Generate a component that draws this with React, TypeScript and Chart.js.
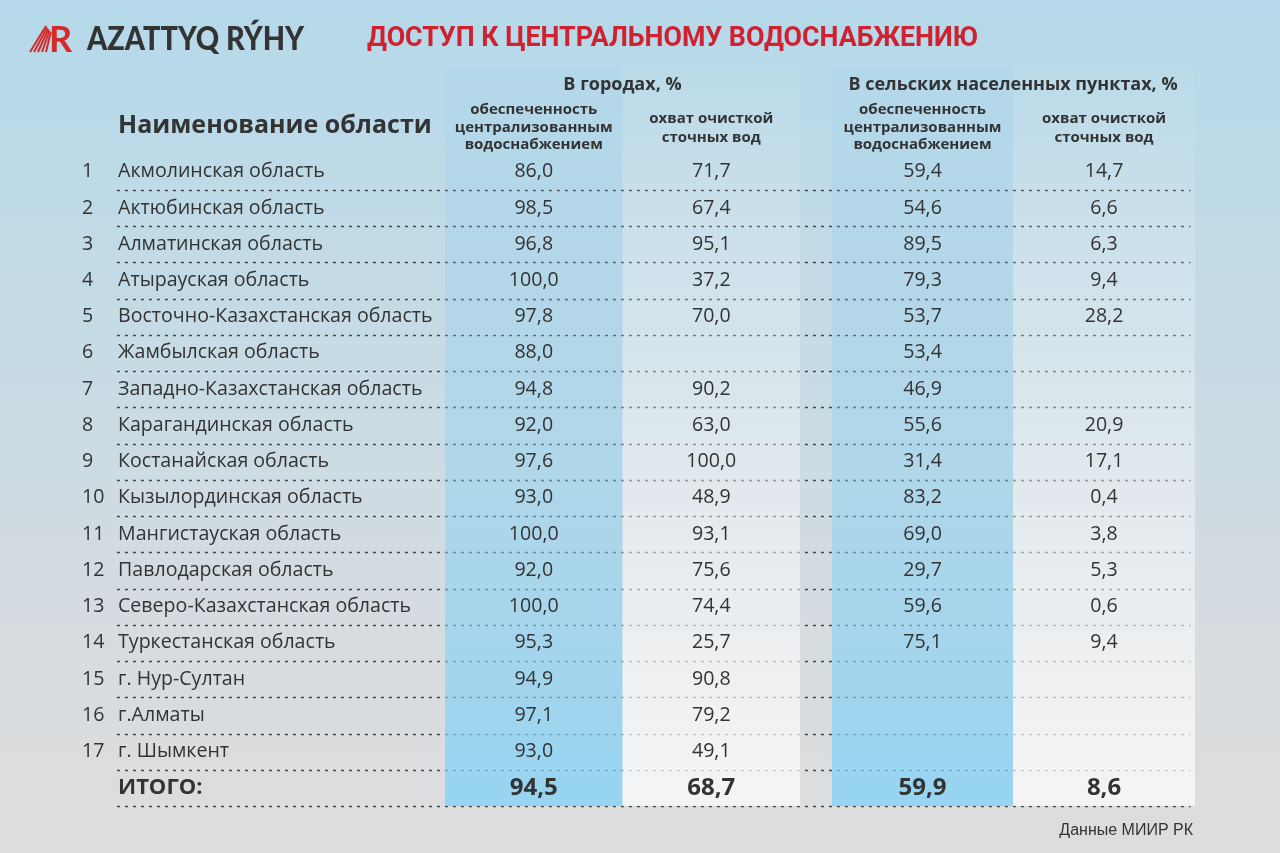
import React, { useEffect, useRef } from 'react';
import { Chart, registerables } from 'chart.js';

Chart.register(...registerables);

// ---------- DATA ----------
const titleText = 'ДОСТУП К ЦЕНТРАЛЬНОМУ ВОДОСНАБЖЕНИЮ';
const brandText = 'AZATTYQ RÝHY';
const sourceText = 'Данные МИИР РК';
const nameHeader = 'Наименование области';
const totalLabel = 'ИТОГО:';
const groupHeaders = ['В городах, %', 'В сельских населенных пунктах, %'];
const columnHeaders = [
  ['обеспеченность', 'централизованным', 'водоснабжением'],
  ['охват очисткой', 'сточных вод'],
  ['обеспеченность', 'централизованным', 'водоснабжением'],
  ['охват очисткой', 'сточных вод'],
];

const regions = [
  'Акмолинская область',
  'Актюбинская область',
  'Алматинская область',
  'Атырауская область',
  'Восточно-Казахстанская область',
  'Жамбылская область',
  'Западно-Казахстанская область',
  'Карагандинская область',
  'Костанайская область',
  'Кызылординская область',
  'Мангистауская область',
  'Павлодарская область',
  'Северо-Казахстанская область',
  'Туркестанская область',
  'г. Нур-Султан',
  'г.Алматы',
  'г. Шымкент',
];

const cityWater: (number | null)[] = [86.0, 98.5, 96.8, 100.0, 97.8, 88.0, 94.8, 92.0, 97.6, 93.0, 100.0, 92.0, 100.0, 95.3, 94.9, 97.1, 93.0];
const citySewage: (number | null)[] = [71.7, 67.4, 95.1, 37.2, 70.0, null, 90.2, 63.0, 100.0, 48.9, 93.1, 75.6, 74.4, 25.7, 90.8, 79.2, 49.1];
const ruralWater: (number | null)[] = [59.4, 54.6, 89.5, 79.3, 53.7, 53.4, 46.9, 55.6, 31.4, 83.2, 69.0, 29.7, 59.6, 75.1, null, null, null];
const ruralSewage: (number | null)[] = [14.7, 6.6, 6.3, 9.4, 28.2, null, null, 20.9, 17.1, 0.4, 3.8, 5.3, 0.6, 9.4, null, null, null];
const totals = [94.5, 68.7, 59.9, 8.6];

// ---------- LAYOUT ----------
const COLS = [cityWater, citySewage, ruralWater, ruralSewage];
const COL_EDGES = [[0, 1], [1, 2], [2.18, 3.2], [3.2, 4.225]];
const COL_KIND = ['blue', 'white', 'blue', 'white'];
const X_MAX = 4.225;
const Y_MIN = -2.36;
const Y_MAX = 18;
const NUM_X = -2.045;
const NAME_X = -1.842;
const LINE_X0 = -1.848;
const LINE_X1 = 4.2;
const FONT = '"Open Sans", "Noto Sans", sans-serif';
const TEXT = '#333333';

const fmt = (v: number) => v.toFixed(1).replace('.', ',');

function fitText(ctx: CanvasRenderingContext2D, text: string, x: number, y: number, w: number) {
  const m = ctx.measureText(text).width;
  ctx.save();
  ctx.translate(x, y);
  ctx.scale(w / m, 1);
  ctx.textAlign = 'left';
  ctx.fillText(text, 0, 0);
  ctx.restore();
}

const tablePlugin = {
  id: 'tablePlugin',
  beforeDraw(chart: any) {
    const { ctx, width, height } = chart;
    ctx.save();
    const g = ctx.createLinearGradient(0, 0, 0, height);
    g.addColorStop(0, '#b5d9ea');
    g.addColorStop(0.4, '#c6dbe5');
    g.addColorStop(0.78, '#d8dcdf');
    g.addColorStop(1, '#dddddd');
    ctx.fillStyle = g;
    ctx.fillRect(0, 0, width, height);
    ctx.restore();
  },
  beforeDatasetsDraw(chart: any) {
    const { ctx } = chart;
    const xs = chart.scales.x;
    const ys = chart.scales.y;
    // dotted row separators
    ctx.save();
    ctx.setLineDash([3, 5]);
    ctx.lineWidth = 1.5;
    ctx.strokeStyle = '#444444';
    for (let i = 1; i <= regions.length + 1; i++) {
      const py = Math.round(ys.getPixelForValue(i)) + 0.5;
      ctx.beginPath();
      ctx.moveTo(xs.getPixelForValue(LINE_X0), py);
      ctx.lineTo(xs.getPixelForValue(LINE_X1), py);
      ctx.stroke();
    }
    ctx.restore();
    // column bands
    const top = ys.getPixelForValue(Y_MIN);
    const bot = ys.getPixelForValue(Y_MAX);
    COL_EDGES.forEach(([a, b], k) => {
      const x0 = xs.getPixelForValue(a);
      const x1 = xs.getPixelForValue(b);
      const g = ctx.createLinearGradient(0, top, 0, bot);
      if (COL_KIND[k] === 'blue') {
        g.addColorStop(0, 'rgba(135,205,240,0.1)');
        g.addColorStop(0.5, 'rgba(135,207,243,0.38)');
        g.addColorStop(1, 'rgba(130,210,247,0.78)');
      } else {
        g.addColorStop(0, 'rgba(250,251,252,0.03)');
        g.addColorStop(0.5, 'rgba(250,251,252,0.38)');
        g.addColorStop(1, 'rgba(250,250,251,0.8)');
      }
      ctx.fillStyle = g;
      ctx.fillRect(x0, top, x1 - x0, bot - top);
    });
  },
  afterDatasetsDraw(chart: any) {
    const { ctx } = chart;
    const xs = chart.scales.x;
    const ys = chart.scales.y;
    ctx.save();
    ctx.fillStyle = TEXT;
    ctx.textBaseline = 'middle';

    // values from dataset elements
    chart.data.datasets.forEach((ds: any, di: number) => {
      const meta = chart.getDatasetMeta(di);
      meta.data.forEach((el: any, j: number) => {
        const raw = ds.data[j];
        ctx.font = raw.total ? `bold 24px ${FONT}` : `19.6px ${FONT}`;
        ctx.textAlign = 'center';
        ctx.fillText(fmt(raw.v), el.x, el.y);
      });
    });

    // row numbers and names
    regions.forEach((name, i) => {
      const py = ys.getPixelForValue(i + 0.5);
      ctx.font = `19.6px ${FONT}`;
      ctx.textAlign = 'left';
      ctx.fillText(String(i + 1), xs.getPixelForValue(NUM_X), py);
      ctx.fillText(name, xs.getPixelForValue(NAME_X), py);
    });
    ctx.font = `bold 22px ${FONT}`;
    ctx.fillText(totalLabel, xs.getPixelForValue(NAME_X), ys.getPixelForValue(regions.length + 0.5));

    // headers
    ctx.font = `bold 25px ${FONT}`;
    ctx.fillText(nameHeader, xs.getPixelForValue(NAME_X), ys.getPixelForValue(-0.76));

    ctx.textAlign = 'center';
    ctx.font = `bold 18px ${FONT}`;
    ctx.fillText(groupHeaders[0], xs.getPixelForValue(COL_EDGES[0][1]), ys.getPixelForValue(-1.89));
    ctx.fillText(groupHeaders[1], xs.getPixelForValue(COL_EDGES[2][1]), ys.getPixelForValue(-1.89));

    ctx.font = `bold 15px ${FONT}`;
    columnHeaders.forEach((lines, k) => {
      const cx = xs.getPixelForValue((COL_EDGES[k][0] + COL_EDGES[k][1]) / 2);
      const ys3 = lines.length === 3 ? [-1.2, -0.72, -0.24] : [-0.96, -0.44];
      lines.forEach((ln, li) => ctx.fillText(ln, cx, ys.getPixelForValue(ys3[li])));
    });

    // title
    ctx.fillStyle = '#cf2130';
    ctx.font = `bold 28px Roboto, sans-serif`;
    fitText(ctx, titleText, 367, 39, 611);

    // brand
    ctx.fillStyle = '#333333';
    ctx.font = `900 32px Lato, sans-serif`;
    fitText(ctx, brandText, 87, 40, 217);

    // logo icon
    ctx.fillStyle = '#d42b2b';
    ctx.font = `bold 36px Lato, sans-serif`;
    ctx.textAlign = 'left';
    ctx.fillText('R', 49, 40);
    ctx.strokeStyle = '#d42b2b';
    ctx.lineWidth = 2;
    for (let s = 0; s < 5; s++) {
      ctx.beginPath();
      ctx.moveTo(30 + s * 4, 52);
      ctx.lineTo(46 + s * 1.2, 26 + s * 1.5);
      ctx.stroke();
    }

    // source
    ctx.fillStyle = '#333333';
    ctx.font = `16px "Liberation Sans", Arial, sans-serif`;
    ctx.textAlign = 'right';
    ctx.fillText(sourceText, 1193, 831);
    ctx.restore();
  },
};

export default function App() {
  const ref = useRef<HTMLCanvasElement | null>(null);
  useEffect(() => {
    document.body.style.margin = '0';
    const canvas = ref.current;
    if (!canvas) return;
    const datasets = COLS.map((col, k) => {
      const cx = (COL_EDGES[k][0] + COL_EDGES[k][1]) / 2;
      const data: any[] = [];
      col.forEach((v, i) => {
        if (v !== null) data.push({ x: cx, y: i + 0.5, v });
      });
      data.push({ x: cx, y: regions.length + 0.5, v: totals[k], total: true });
      return { label: `col${k}`, data, pointRadius: 0, pointHoverRadius: 0, showLine: false };
    });
    const chart = new Chart(canvas, {
      type: 'scatter',
      data: { datasets },
      options: {
        animation: false,
        responsive: false,
        events: [],
        layout: { padding: { left: 445, right: 85, top: 68, bottom: 47 } },
        scales: {
          x: { type: 'linear', min: 0, max: X_MAX, display: false },
          y: { type: 'linear', min: Y_MIN, max: Y_MAX, reverse: true, display: false },
        },
        plugins: { legend: { display: false }, tooltip: { enabled: false }, title: { display: false } },
      },
      plugins: [tablePlugin],
    });
    return () => chart.destroy();
  }, []);
  return (
    <div style={{ position: 'absolute', left: 0, top: 0, width: 1280, height: 853 }}>
      <canvas ref={ref} width={1280} height={853} />
    </div>
  );
}
